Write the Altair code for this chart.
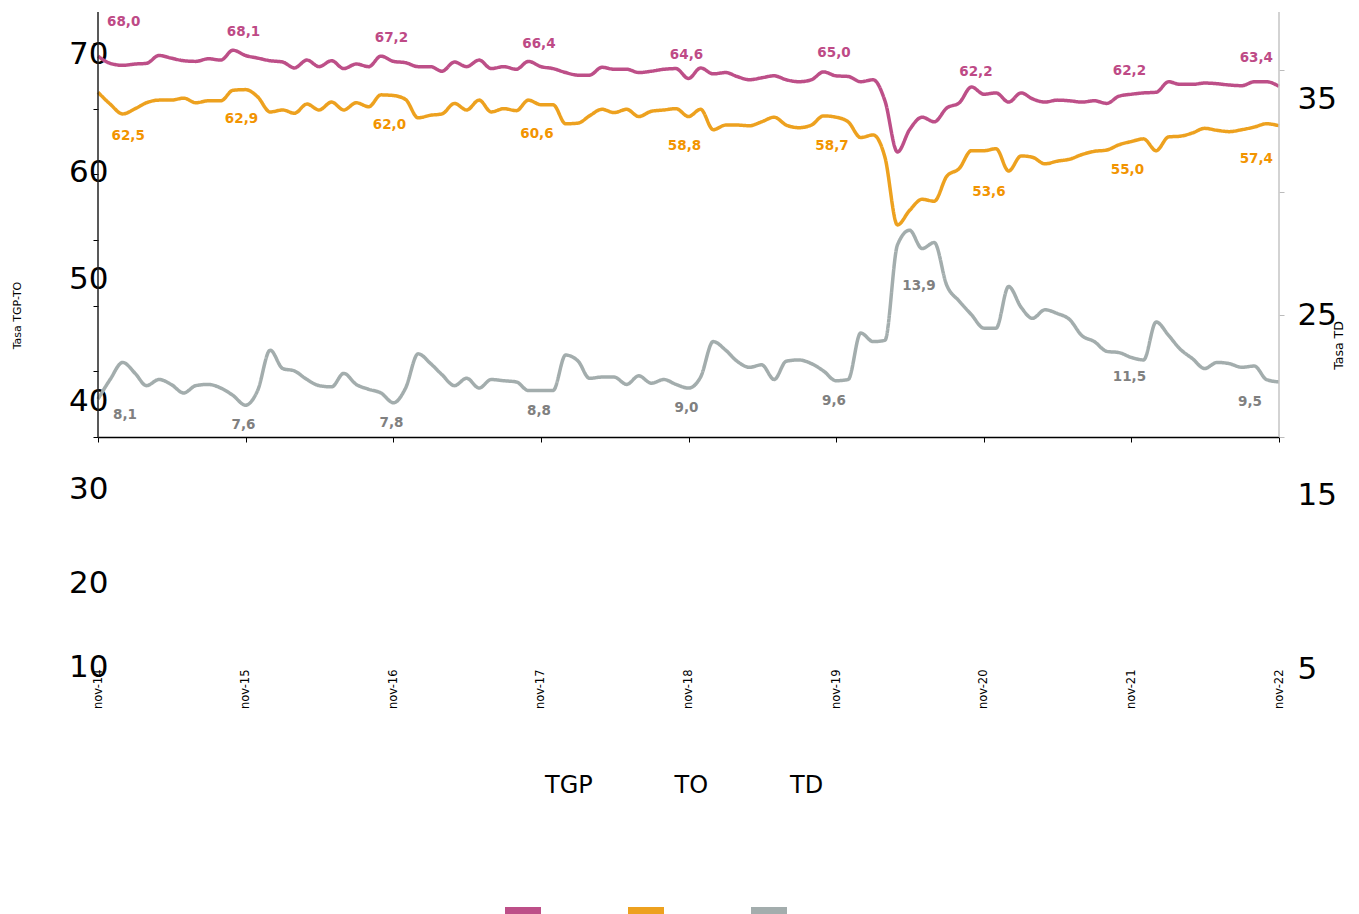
import altair as alt
import pandas as pd

# ---------------- data ----------------
months = pd.date_range("2014-11-01", "2022-11-01", freq="MS")  # monthly, nov-14 .. nov-22

series = ["TGP", "TO", "TD"]
line_colors = ["#BD4F88", "#EDA11F", "#A3ADAD"]
text_colors = ["#BE4A86", "#F29400", "#808080"]

tgp = [68.0, 66.9, 66.6, 66.8, 66.9, 68.1, 67.7, 67.3, 67.2, 67.6, 67.4, 68.9,
       68.1, 67.7, 67.3, 67.1, 66.2, 67.4, 66.4, 67.3, 66.1, 66.8, 66.4, 68.0,
       67.2, 67.0, 66.4, 66.4, 65.7, 67.1, 66.4, 67.4, 66.1, 66.4, 66.0, 67.2,
       66.4, 66.1, 65.5, 65.1, 65.1, 66.3, 66.0, 66.0, 65.5, 65.7, 66.0, 66.1,
       64.6, 66.2, 65.3, 65.5, 64.9, 64.4, 64.7, 65.0, 64.4, 64.1, 64.4, 65.6,
       65.0, 64.9, 64.1, 64.4, 61.2, 53.4, 56.8, 58.7, 58.0, 60.1, 60.9, 63.3,
       62.2, 62.4, 61.0, 62.4, 61.5, 61.0, 61.3, 61.2, 61.0, 61.2, 60.8, 61.9,
       62.2, 62.4, 62.5, 64.1, 63.7, 63.7, 63.9, 63.8, 63.6, 63.5, 64.1, 64.1,
       63.4]

to = [62.5, 60.7, 59.2, 60.0, 60.9, 61.3, 61.3, 61.6, 60.9, 61.2, 61.2, 62.8,
      62.9, 61.8, 59.5, 59.8, 59.3, 60.7, 59.8, 61.0, 59.8, 60.9, 60.3, 62.1,
      62.0, 61.4, 58.6, 59.0, 59.2, 60.8, 59.8, 61.3, 59.5, 60.0, 59.7, 61.3,
      60.6, 60.6, 57.7, 57.8, 58.9, 59.9, 59.4, 59.9, 58.8, 59.6, 59.8, 60.0,
      58.8, 59.9, 56.8, 57.5, 57.5, 57.4, 58.0, 58.7, 57.5, 57.1, 57.5, 58.9,
      58.7, 58.0, 55.6, 56.0, 52.6, 42.3, 44.5, 46.2, 45.9, 49.7, 50.9, 53.6,
      53.6, 53.9, 50.5, 52.8, 52.6, 51.6, 52.0, 52.3, 53.0, 53.5, 53.7, 54.5,
      55.0, 55.4, 53.6, 55.7, 55.8, 56.3, 57.0, 56.7, 56.5, 56.8, 57.2, 57.7,
      57.4]

td = [8.1, 9.7, 11.1, 10.2, 9.2, 9.7, 9.3, 8.6, 9.2, 9.3, 9.0, 8.4,
      7.6, 8.8, 12.1, 10.6, 10.4, 9.7, 9.2, 9.1, 10.2, 9.3, 8.9, 8.6,
      7.8, 9.0, 11.8, 11.0, 10.1, 9.2, 9.8, 9.0, 9.7, 9.6, 9.5, 8.8,
      8.8, 8.8, 11.7, 11.2, 9.8, 9.9, 9.9, 9.3, 10.0, 9.4, 9.7, 9.3,
      9.0, 9.9, 12.8, 12.1, 11.2, 10.7, 10.9, 9.7, 11.2, 11.3, 11.0, 10.4,
      9.6, 9.7, 13.5, 12.8, 12.9, 20.7, 21.9, 20.4, 20.9, 17.4, 16.1, 15.0,
      13.9, 13.9, 17.3, 15.6, 14.7, 15.4, 15.1, 14.6, 13.3, 12.8, 12.0, 11.9,
      11.5, 11.3, 14.4, 13.3, 12.2, 11.4, 10.6, 11.1, 11.0, 10.7, 10.8, 9.7,
      9.5]

# yearly (November) labelled values
label_idx = [0, 12, 24, 36, 48, 60, 72, 84, 96]
tgp_labels = [68.0, 68.1, 67.2, 66.4, 64.6, 65.0, 62.2, 62.2, 63.4]
to_labels = [62.5, 62.9, 62.0, 60.6, 58.8, 58.7, 53.6, 55.0, 57.4]
td_labels = [8.1, 7.6, 7.8, 8.8, 9.0, 9.6, 13.9, 11.5, 9.5]

left_ticks = [10, 20, 30, 40, 50, 60, 70]
right_ticks = [5, 15, 25, 35]

# ---------------- tables ----------------
values = {"TGP": tgp, "TO": to, "TD": td}
rows = []
for s in series:
    for m, v in zip(months, values[s]):
        rows.append({"fecha": m, "serie": s, "serie_b": s + "*", "valor": v})
lines_df = pd.DataFrame(rows)

lab_values = {"TGP": tgp_labels, "TO": to_labels, "TD": td_labels}
lrows = []
for s in series:
    for k, (i, v) in enumerate(zip(label_idx, lab_values[s])):
        cls = "first" if k == 0 else ("last" if k == len(label_idx) - 1 else ("covid" if i == 72 else "mid"))
        lrows.append({"fecha": months[i], "serie": s, "valor": v,
                      "txt": f"{v:.1f}".replace(".", ","), "cls": cls})
labels_df = pd.DataFrame(lrows)

edge_df = pd.DataFrame({"fecha": [months[0], months[-1]],
                        "base": [left_ticks[0], right_ticks[0]],
                        "lado": ["left", "right"]})

# ---------------- scales / axes ----------------
W, H = 1181, 656
LEFT_DOM = [-25.18, 74.72]
RIGHT_DOM = [-13.88, 39.74]

x_scale = alt.Scale(domain=[alt.DateTime(year=2014, month=11, date=1),
                            alt.DateTime(year=2022, month=11, date=1)], nice=False)
nov_ticks = [alt.DateTime(year=y, month=11, date=1) for y in range(2014, 2023)]
left_scale = alt.Scale(domain=LEFT_DOM, nice=False, zero=False)
right_scale = alt.Scale(domain=RIGHT_DOM, nice=False, zero=False)
FONT = "DejaVu Sans"


def label_shift(pairs):
    return {"condition": [{"test": f"datum.value == {v}", "value": o} for v, o in pairs],
            "value": 0}


axis_left = alt.Axis(orient="left", values=left_ticks, domain=False, ticks=True, tickSize=5,
                     tickColor="#000000", grid=False, labelFont=FONT, labelFontSize=31,
                     labelColor="#000000", labelPadding=-15, labelOverlap=False,
                     labelOffset=label_shift([(70, 11.5), (60, 64), (50, 105), (40, 162),
                                              (30, 184), (20, 212), (10, 231)]),
                     title="Tasa TGP-TO", titleFont=FONT, titleFontSize=11,
                     titleFontWeight="normal", titleColor="#000000", titleAngle=270,
                     titleX=-81, titleY=303, titleAlign="center", titleBaseline="middle")

axis_right = alt.Axis(orient="right", values=right_ticks, domain=False, ticks=True, tickSize=5,
                      tickColor="#BBBBBB", grid=False, labelFont=FONT, labelFontSize=31,
                      labelColor="#000000", labelPadding=13, labelOverlap=False,
                      labelOffset=label_shift([(35, 30), (25, 123), (15, 181), (5, 232)]),
                      title="Tasa TD", titleFont=FONT, titleFontSize=12.5,
                      titleFontWeight="normal", titleColor="#000000", titleAngle=270,
                      titleX=59, titleY=333, titleAlign="center", titleBaseline="middle")

axis_x_labels = alt.Axis(orient="bottom", values=nov_ticks, domain=False, ticks=False, tickSize=0,
                         grid=False, labelAngle=270, labelPadding=1, labelFont=FONT,
                         labelFontSize=11.5, labelColor="#000000", labelFlush=False,
                         labelOverlap=False,
                         labelExpr="lower(timeFormat(datum.value, '%b-%y'))", title=None)

axis_x_line = alt.Axis(orient="bottom", offset=-231, values=nov_ticks, domain=True,
                       domainColor="#000000", domainWidth=1.5, ticks=True, tickSize=5,
                       tickColor="#000000", labels=False, grid=False, title=None)

color_scale = alt.Scale(domain=series, range=line_colors)
dash_scale = alt.Scale(domain=[s + "*" for s in series], range=[[1, 0], [1, 0], [1, 0]])

legend_common = dict(orient="none", direction="horizontal", title=None, padding=0,
                     symbolType="stroke", symbolSize=1296, labelFont=FONT, labelFontSize=24,
                     labelOffset=4)
# swatch row (no label text) and label row (invisible symbols) of the legend
legend_swatches = alt.Legend(**legend_common, legendX=403, legendY=877, columnPadding=55,
                             symbolStrokeWidth=8, labelExpr="''")
legend_texts = alt.Legend(**legend_common, legendX=405, legendY=755, columnPadding=39.5,
                          symbolOpacity=0, labelColor="#000000",
                          labelExpr="replace(datum.label, '*', '')")

# ---------------- layers ----------------
base_lines = alt.Chart(lines_df)

left_lines = base_lines.transform_filter(alt.datum.serie != "TD").mark_line(
    strokeWidth=3.5, interpolate="monotone").encode(
    x=alt.X("fecha:T", scale=x_scale, axis=axis_x_labels),
    y=alt.Y("valor:Q", scale=left_scale, axis=axis_left),
    color=alt.Color("serie:N", scale=color_scale, legend=legend_swatches),
    strokeDash=alt.StrokeDash("serie_b:N", scale=dash_scale, legend=legend_texts),
)

right_line = base_lines.transform_filter(alt.datum.serie == "TD").mark_line(
    strokeWidth=3.5, interpolate="monotone").encode(
    x=alt.X("fecha:T", scale=x_scale, axis=axis_x_line),
    y=alt.Y("valor:Q", scale=right_scale, axis=axis_right),
    color=alt.Color("serie:N", scale=color_scale, legend=legend_swatches),
    strokeDash=alt.StrokeDash("serie_b:N", scale=dash_scale, legend=legend_texts),
)

left_edge = alt.Chart(edge_df).transform_filter(alt.datum.lado == "left").mark_rule(
    color="#222222", strokeWidth=1.5).encode(
    x=alt.X("fecha:T", scale=x_scale, axis=None),
    y=alt.Y("base:Q", scale=left_scale, axis=None),
    y2=alt.value(0),
)

right_edge = alt.Chart(edge_df).transform_filter(alt.datum.lado == "right").mark_rule(
    color="#C4C4C4", strokeWidth=1.5).encode(
    x=alt.X("fecha:T", scale=x_scale, axis=None),
    y=alt.Y("base:Q", scale=right_scale, axis=None),
    y2=alt.value(0),
)

# label placement (style): align, dx, dy per series & position class
placement = {
    "TGP": {"first": ("left", 9, -34), "mid": ("center", -2, -23),
            "covid": ("center", -8, -22), "last": ("right", -6, -28)},
    "TO": {"first": ("left", 13.5, 43.5), "mid": ("center", -4, 29),
           "covid": ("center", 5, 41.5), "last": ("right", -6, 33)},
    "TD": {"first": ("left", 15, 16), "mid": ("center", -2, 20),
           "covid": ("center", -65, -42), "last": ("right", -17, 20)},
}

text_layers = []
for s, tc in zip(series, text_colors):
    sc = right_scale if s == "TD" else left_scale
    for cls, (al, dx, dy) in placement[s].items():
        text_layers.append(
            alt.Chart(labels_df)
            .transform_filter((alt.datum.serie == s) & (alt.datum.cls == cls))
            .mark_text(font=FONT, fontSize=13.5, fontWeight="bold", color=tc,
                       align=al, baseline="middle", dx=dx, dy=dy)
            .encode(x=alt.X("fecha:T", scale=x_scale, axis=None),
                    y=alt.Y("valor:Q", scale=sc, axis=None),
                    text="txt:N")
        )

chart = (
    alt.layer(left_lines, right_line, left_edge, right_edge, *text_layers)
    .resolve_scale(y="independent", color="shared", strokeDash="shared")
    .resolve_axis(x="independent", y="independent")
    .properties(width=W, height=H,
                autosize=alt.AutoSizeParams(type="none"),
                padding={"left": 90, "top": 4, "right": 70, "bottom": 246},
                background="white")
    .configure_view(stroke=None)
)

chart.save("out.html", embed_options={"renderer": "svg", "actions": False})
